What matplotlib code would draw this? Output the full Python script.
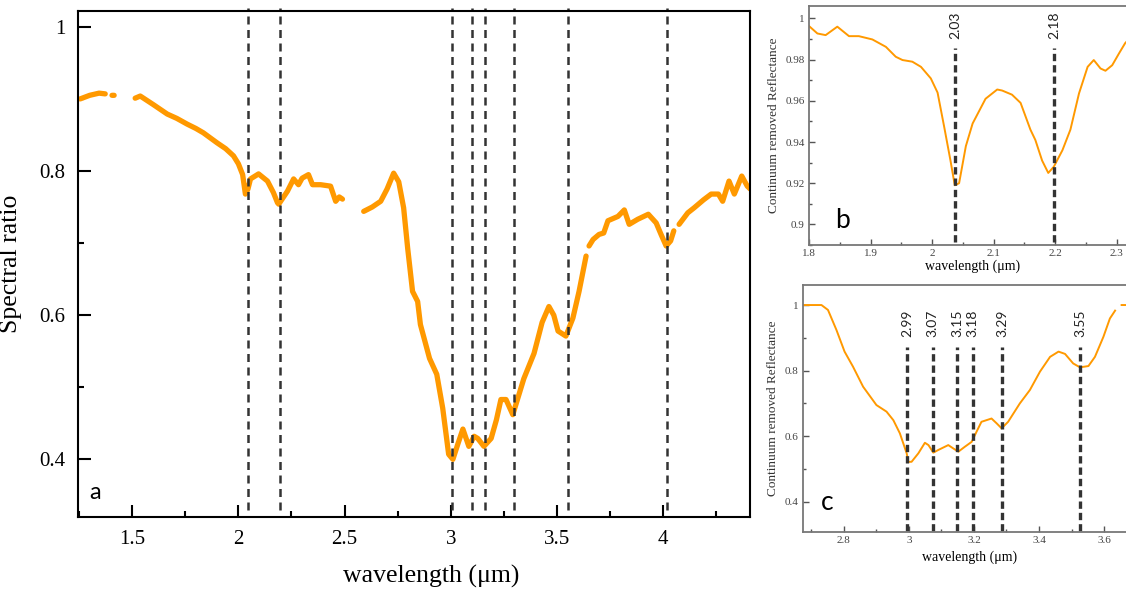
import numpy as np
import matplotlib.pyplot as plt
from matplotlib.ticker import MultipleLocator

# panel a: spectral ratio (nan = gap in the data)
wl_a = [1.255, 1.30, 1.344, 1.373, np.nan, 1.405, 1.415, np.nan,
        1.514, 1.538, 1.60, 1.665, 1.71, 1.759, 1.80, 1.835, 1.90, 1.94, 1.977, 2.0, 2.02,
        2.033, 2.045, 2.057, 2.095, 2.137, 2.165, 2.184, 2.19, 2.231, 2.26, 2.283, 2.30,
        2.33, 2.349, 2.387, 2.434, 2.458, 2.475, 2.49, np.nan,
        2.59, 2.63, 2.67, 2.70, 2.731, 2.755, 2.778, 2.797, 2.82, 2.844, 2.857, 2.90,
        2.934, 2.962, 2.99, 3.01, 3.033, 3.057, 3.085, 3.11, 3.127, 3.156, 3.19, 3.215,
        3.236, 3.26, 3.292, 3.344, 3.392, 3.43, 3.462, 3.485, 3.505, 3.542, 3.575, 3.604,
        3.637, np.nan,
        3.651, 3.67, 3.698, 3.72, 3.74, 3.787, 3.817, 3.84, 3.88, 3.93, 3.967, 3.99,
        4.014, 4.035, 4.05, np.nan,
        4.075, 4.116, 4.146, 4.19, 4.226, 4.26, 4.28, 4.31, 4.335, 4.37, 4.396, 4.41]
ratio_a = [0.900, 0.905, 0.908, 0.907, np.nan, 0.905, 0.905, np.nan,
           0.901, 0.904, 0.892, 0.879, 0.873, 0.865, 0.859, 0.853, 0.839, 0.831, 0.821, 0.810, 0.795,
           0.768, 0.775, 0.789, 0.796, 0.786, 0.770, 0.756, 0.754, 0.772, 0.789, 0.781, 0.790,
           0.795, 0.781, 0.781, 0.779, 0.758, 0.764, 0.761, np.nan,
           0.744, 0.750, 0.758, 0.775, 0.797, 0.785, 0.749, 0.693, 0.633, 0.619, 0.587, 0.540,
           0.518, 0.471, 0.407, 0.400, 0.421, 0.442, 0.418, 0.432, 0.429, 0.418, 0.429, 0.455,
           0.483, 0.483, 0.462, 0.512, 0.547, 0.590, 0.612, 0.600, 0.578, 0.571, 0.596, 0.633,
           0.682, np.nan,
           0.696, 0.705, 0.712, 0.714, 0.731, 0.737, 0.746, 0.726, 0.733, 0.740, 0.728, 0.712,
           0.696, 0.703, 0.717, np.nan,
           0.726, 0.742, 0.749, 0.760, 0.768, 0.768, 0.758, 0.786, 0.768, 0.793, 0.779, 0.775]
bands_a = [2.047, 2.195, 3.008, 3.102, 3.159, 3.299, 3.55, 4.017]

# panel b: continuum removed, 1.8-2.3 um
wl_b = [1.80, 1.8136, 1.827, 1.846, 1.865, 1.881, 1.903, 1.925, 1.941, 1.952, 1.968, 1.982,
        1.998, 2.009, 2.02, 2.03, 2.037, 2.044, 2.055, 2.066, 2.087, 2.106, 2.114, 2.13,
        2.144, 2.16, 2.168, 2.179, 2.189, 2.198, 2.212, 2.225, 2.239, 2.253, 2.263, 2.274,
        2.282, 2.293, 2.304, 2.314, 2.33]
refl_b = [0.9963, 0.9927, 0.9919, 0.996, 0.9914, 0.9914, 0.9898, 0.9862, 0.9814, 0.9798, 0.979, 0.9765,
          0.9709, 0.964, 0.947, 0.931, 0.919, 0.920, 0.938, 0.949, 0.961, 0.9655, 0.965, 0.963,
          0.959, 0.946, 0.941, 0.931, 0.925, 0.928, 0.936, 0.946, 0.9636, 0.9765, 0.9798, 0.9757,
          0.9746, 0.9773, 0.983, 0.988, 0.993]
bands_b = [2.038, 2.198]
labels_b = ["2.03", "2.18"]

# panel c: continuum removed, 2.7-3.7 um
wl_c = [2.675, 2.731, 2.751, 2.777, 2.802, 2.828, 2.859, 2.90, 2.931, 2.952, 2.972, 2.993,
        2.998, 3.008, 3.029, 3.049, 3.06, 3.075, 3.09, 3.121, 3.136, 3.152, 3.172, 3.193,
        3.208, 3.223, 3.254, 3.27, 3.285, 3.305, 3.341, 3.372, 3.403, 3.434, 3.46, 3.48,
        3.505, 3.526, 3.552, 3.572, 3.598, 3.618, 3.634, np.nan, 3.654, 3.70]
refl_c = [1.0, 1.0, 0.985, 0.924, 0.858, 0.812, 0.751, 0.695, 0.675, 0.649, 0.609, 0.548,
          0.522, 0.522, 0.548, 0.580, 0.573, 0.550, 0.558, 0.573, 0.563, 0.553, 0.568, 0.583,
          0.614, 0.644, 0.654, 0.639, 0.624, 0.644, 0.700, 0.741, 0.797, 0.842, 0.858, 0.851,
          0.822, 0.810, 0.814, 0.842, 0.903, 0.959, 0.983, np.nan, 1.0, 1.0]
bands_c = [2.995, 3.073, 3.149, 3.196, 3.287, 3.526]
labels_c = ["2.99", "3.07", "3.15", "3.18", "3.29", "3.55"]

orange = '#ff9900'
serif = ['Liberation Serif', 'DejaVu Serif']
sans = ['Lato', 'DejaVu Sans']

fig = plt.figure(figsize=(11.26, 5.9), dpi=100)

# ---- panel a
ax = fig.add_axes([0.0693, 0.1237, 0.597, 0.8577])
ax.plot(wl_a, ratio_a, color=orange, lw=3.8, solid_capstyle='round', solid_joinstyle='round')
ax.vlines(bands_a, 0.33, 1.026, colors='#333333', lw=1.8, linestyles=(0, (3.2, 2.2)), clip_on=False)
ax.set_xlim(1.245, 4.41)
ax.set_ylim(0.32, 1.022)
ax.xaxis.set_major_locator(MultipleLocator(0.5))
ax.xaxis.set_minor_locator(MultipleLocator(0.25))
ax.yaxis.set_major_locator(MultipleLocator(0.2))
ax.yaxis.set_minor_locator(MultipleLocator(0.1))
ax.set_xticks([1.5, 2, 2.5, 3, 3.5, 4])
ax.set_xticklabels(['1.5', '2', '2.5', '3', '3.5', '4'])
ax.set_yticks([0.4, 0.6, 0.8, 1.0])
ax.set_yticklabels(['0.4', '0.6', '0.8', '1'])
ax.tick_params(which='both', direction='in', top=False, right=False, width=1.5, labelsize=15, pad=9)
ax.tick_params(which='major', length=9)
ax.tick_params(which='minor', length=4.5)
for lab in ax.get_xticklabels() + ax.get_yticklabels():
    lab.set_family(serif)
for s in ax.spines.values():
    s.set_linewidth(1.5)
ax.set_xlabel('wavelength (\u03bcm)', family=serif, fontsize=18.5)
ax.set_ylabel('Spectral ratio', family=serif, fontsize=18.5)
ax.xaxis.set_label_coords(0.525, -0.095)
ax.yaxis.set_label_coords(-0.083, 0.5)
ax.text(1.30, 0.345, 'a', family=sans, fontsize=17)

# ---- panel b
bx = fig.add_axes([0.7185, 0.5847, 0.2904, 0.405])
bx.plot(wl_b, refl_b, color=orange, lw=1.4)
bx.vlines(bands_b, 0.8915, 0.9855, colors='#333333', lw=2.4, linestyles=(0, (2.2, 1.2)))
for xb, lb in zip(bands_b, labels_b):
    bx.text(xb, 0.9965, lb, rotation=90, ha='center', va='center', family=sans, fontsize=10, color='#222222')
bx.set_xlim(1.8, 2.3317)
bx.set_ylim(0.89, 1.006)
bx.set_xticks([1.8, 1.9, 2.0, 2.1, 2.2, 2.3])
bx.set_xticklabels(['1.8', '1.9', '2', '2.1', '2.2', '2.3'])
bx.xaxis.set_minor_locator(MultipleLocator(0.05))
bx.set_yticks([0.9, 0.92, 0.94, 0.96, 0.98, 1.0])
bx.set_yticklabels(['0.9', '0.92', '0.94', '0.96', '0.98', '1'])
bx.yaxis.set_minor_locator(MultipleLocator(0.01))
bx.text(1.842, 0.8985, 'b', family=sans, fontsize=19)
bx.set_xlabel('wavelength (\u03bcm)', family=serif, fontsize=10, labelpad=1)
bx.set_ylabel('Continuum removed Reflectance', family=serif, fontsize=9.5, color='#333333', labelpad=4)

# ---- panel c
cx = fig.add_axes([0.7131, 0.0983, 0.2957, 0.4186])
cx.plot(wl_c, refl_c, color=orange, lw=1.4)
cx.vlines(bands_c, 0.312, 0.873, colors='#333333', lw=2.4, linestyles=(0, (2.2, 1.2)))
for xc, lc in zip(bands_c, labels_c):
    cx.text(xc, 0.945, lc, rotation=90, ha='center', va='center', family=sans, fontsize=10, color='#222222')
cx.set_xlim(2.674, 3.698)
cx.set_ylim(0.308, 1.061)
cx.set_xticks([2.8, 3.0, 3.2, 3.4, 3.6])
cx.set_xticklabels(['2.8', '3', '3.2', '3.4', '3.6'])
cx.xaxis.set_minor_locator(MultipleLocator(0.1))
cx.set_yticks([0.4, 0.6, 0.8, 1.0])
cx.set_yticklabels(['0.4', '0.6', '0.8', '1'])
cx.yaxis.set_minor_locator(MultipleLocator(0.1))
cx.text(2.73, 0.375, 'c', family=sans, fontsize=19)
cx.set_xlabel('wavelength (\u03bcm)', family=serif, fontsize=10, labelpad=4)
cx.set_ylabel('Continuum removed Reflectance', family=serif, fontsize=9.5, color='#333333', labelpad=4)

for a in (bx, cx):
    a.tick_params(which='both', direction='in', top=False, right=False, width=1.0,
                  labelsize=8, pad=3, colors='#555555', labelcolor='#444444')
    a.tick_params(which='major', length=4)
    a.tick_params(which='minor', length=2)
    for lab in a.get_xticklabels() + a.get_yticklabels():
        lab.set_family(serif)
    for s in a.spines.values():
        s.set_linewidth(1.3)
        s.set_color('#777777')

fig.savefig('out.png', dpi=100)
